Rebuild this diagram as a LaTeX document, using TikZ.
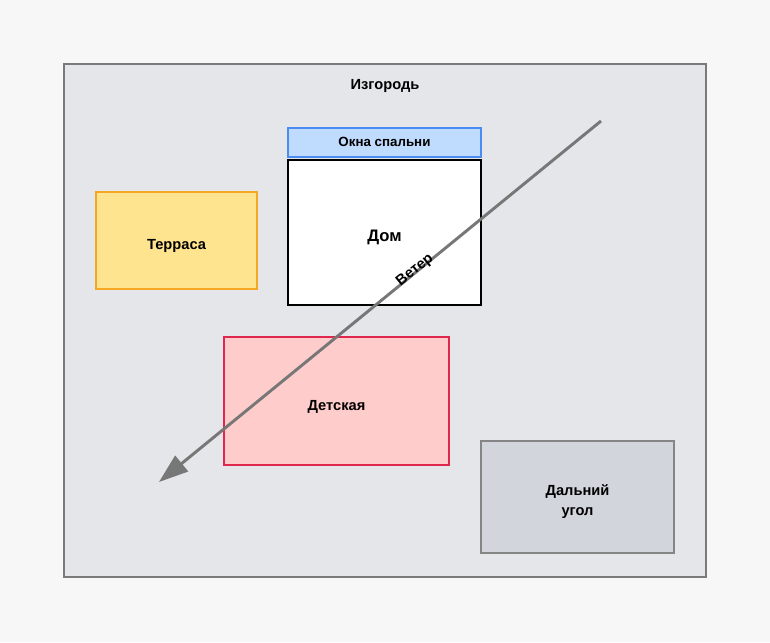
\documentclass[tikz,border=0pt]{standalone}
\usepackage{fontspec}
\setmainfont{Liberation Sans}
\usetikzlibrary{arrows.meta}
\usetikzlibrary{positioning}

\definecolor{pagebg}{HTML}{F7F7F7}
\definecolor{yardbg}{HTML}{E5E6EA}
\definecolor{yardline}{HTML}{7A7A7A}
\definecolor{terfill}{HTML}{FFE48F}
\definecolor{terline}{HTML}{F5A623}
\definecolor{winfill}{HTML}{BFDBFE}
\definecolor{winline}{HTML}{4A8CF0}
\definecolor{kidfill}{HTML}{FFCCCC}
\definecolor{kidline}{HTML}{E0284F}
\definecolor{farfill}{HTML}{D2D5DC}
\definecolor{farline}{HTML}{858585}
\definecolor{windline}{HTML}{777777}

\begin{document}
\begin{tikzpicture}[x=0.75pt,y=-0.75pt,
              zone/.style={draw,line width=1.2pt,inner sep=0pt},
              lbl/.style={font=\bfseries\fontsize{11}{14.5}\selectfont,align=center,inner sep=0pt},
              wind/.style={draw=windline,line width=2.2pt,
                           -{Triangle[length=22pt,width=15pt]}}]
  % page and fence
  \fill[pagebg] (0,0) rectangle (770,642);
  \node[zone,draw=yardline,fill=yardbg,minimum width=481.5pt,minimum height=384.75pt]
    (fence) at (385,320.5) {};
  \node[lbl] (fencelbl) at (385,86) {Изгородь};
  % zones
  \node[zone,draw=terline,fill=terfill,minimum width=120.75pt,minimum height=72.75pt]
    (terrace) at (176.5,240.5) {};
  \node[lbl,yshift=-4pt] (terracelbl) at (terrace.center) {Терраса};
  \node[zone,draw=winline,fill=winfill,minimum width=144.75pt,minimum height=21.75pt]
    (windows) at (384.5,142.5) {};
  \node[lbl,font=\bfseries\fontsize{10}{12}\selectfont,yshift=0.5pt] (windowslbl) at (windows.center) {Окна спальни};
  \node[zone,draw=black,fill=white,line width=1.6pt,minimum width=144.75pt,minimum height=108.75pt]
    (house) at (384.5,232.5) {};
  \node[lbl,font=\bfseries\fontsize{12.5}{15}\selectfont,yshift=-3.5pt] (houselbl) at (house.center) {Дом};
  \node[zone,draw=kidline,fill=kidfill,minimum width=168.75pt,minimum height=96pt]
    (kids) at (336.5,401) {};
  \node[lbl,yshift=-4.5pt] (kidslbl) at (kids.center) {Детская};
  \node[zone,draw=farline,fill=farfill,minimum width=144.75pt,minimum height=84pt]
    (farcorner) at (577.5,497) {};
  \node[lbl,yshift=-3.5pt] (farcornerlbl) at (farcorner.center) {Дальний\\угол};
  % wind
  \coordinate (windfrom) at (601,121);
  \coordinate (windto) at (159,482);
  \draw[wind] (windfrom) -- node[pos=0.418,sloped,above=-4.5pt,inner sep=0pt,
        font=\bfseries\fontsize{11}{14}\selectfont] (windlbl) {Ветер} (windto);
\end{tikzpicture}
\end{document}
